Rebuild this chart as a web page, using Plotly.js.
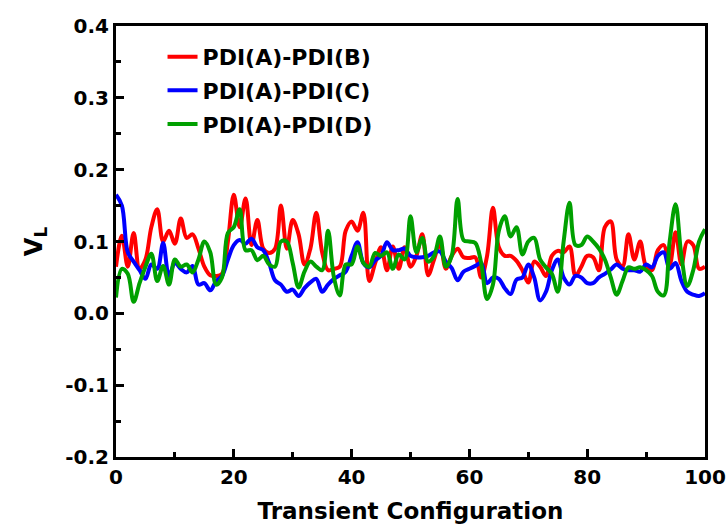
<!DOCTYPE html>
<html>
<head>
<meta charset="utf-8">
<script src="https://cdn.plot.ly/plotly-3.0.1.min.js"></script>
<style>html,body{margin:0;padding:0;background:#fff;}#chart{width:726px;height:526px;}</style>
</head>
<body>
<div id="chart"></div>
<script>
// Transient configuration index 0..100
var configs = [];
for (var i = 0; i <= 100; i++) configs.push(i);

var seriesNames = ["PDI(A)-PDI(B)", "PDI(A)-PDI(C)", "PDI(A)-PDI(D)"];

var vB = [0.065,0.108,0.065,0.112,0.062,0.075,0.120,0.145,0.100,0.115,
          0.097,0.132,0.105,0.110,0.090,0.065,0.053,0.052,0.055,0.100,
          0.165,0.120,0.160,0.095,0.130,0.090,0.084,0.090,0.150,0.090,
          0.130,0.110,0.068,0.090,0.140,0.085,0.060,0.062,0.065,0.115,
          0.128,0.115,0.140,0.045,0.070,0.092,0.060,0.093,0.062,0.092,
          0.065,0.080,0.110,0.053,0.075,0.097,0.062,0.080,0.090,0.078,
          0.077,0.078,0.050,0.080,0.147,0.092,0.080,0.080,0.073,0.060,
          0.043,0.072,0.065,0.052,0.080,0.087,0.085,0.093,0.052,0.065,
          0.080,0.078,0.060,0.120,0.128,0.075,0.065,0.110,0.075,0.100,
          0.065,0.060,0.088,0.095,0.068,0.113,0.068,0.100,0.095,0.062,
          0.065];

var vC = [0.165,0.150,0.085,0.072,0.060,0.048,0.068,0.062,0.098,0.052,
          0.070,0.062,0.057,0.066,0.040,0.042,0.032,0.045,0.052,0.075,
          0.095,0.102,0.097,0.104,0.092,0.088,0.070,0.046,0.040,0.030,
          0.033,0.024,0.035,0.043,0.048,0.030,0.040,0.048,0.053,0.058,
          0.080,0.099,0.070,0.064,0.074,0.080,0.099,0.088,0.088,0.090,
          0.080,0.078,0.078,0.080,0.085,0.086,0.072,0.063,0.046,0.058,
          0.062,0.066,0.070,0.042,0.050,0.048,0.035,0.027,0.047,0.050,
          0.068,0.050,0.018,0.030,0.060,0.075,0.050,0.040,0.052,0.050,
          0.042,0.042,0.050,0.055,0.061,0.068,0.062,0.060,0.060,0.058,
          0.068,0.064,0.080,0.085,0.062,0.070,0.045,0.030,0.026,0.024,
          0.028];

var vD = [0.022,0.062,0.055,0.016,0.042,0.065,0.083,0.045,0.066,0.040,
          0.075,0.065,0.068,0.057,0.075,0.100,0.085,0.040,0.050,0.112,
          0.120,0.145,0.088,0.088,0.074,0.080,0.068,0.065,0.100,0.100,
          0.070,0.036,0.058,0.072,0.065,0.060,0.115,0.050,0.025,0.068,
          0.068,0.093,0.070,0.065,0.084,0.080,0.085,0.062,0.082,0.075,
          0.135,0.085,0.105,0.072,0.080,0.107,0.065,0.080,0.159,0.102,
          0.100,0.098,0.070,0.020,0.040,0.115,0.135,0.107,0.120,0.082,
          0.100,0.105,0.075,0.064,0.055,0.030,0.100,0.154,0.095,0.095,
          0.107,0.100,0.090,0.075,0.050,0.026,0.045,0.064,0.062,0.064,
          0.060,0.052,0.030,0.025,0.100,0.152,0.080,0.038,0.060,0.100,
          0.117];

var xTicks = [0, 20, 40, 60, 80, 100];
var yTicks = [-0.2, -0.1, 0.0, 0.1, 0.2, 0.3, 0.4];
var yTickText = ["-0.2", "-0.1", "0.0", "0.1", "0.2", "0.3", "0.4"];

var colors = ["#FF0000", "#0000FF", "#00A000"];
var values = [vB, vC, vD];

var FONT = "DejaVu Sans, Liberation Sans, Arial, sans-serif";

var traces = values.map(function (v, k) {
  return {
    x: configs, y: v, type: "scatter", mode: "lines",
    name: seriesNames[k], legendgroup: "g" + k,
    line: {color: colors[k], width: 4, shape: "spline", smoothing: 1}
  };
});

var axisCommon = {
  showline: true, linecolor: "#000", linewidth: 3, mirror: true,
  ticks: "inside", ticklen: 8, tickwidth: 3, tickcolor: "#000",
  showgrid: false, zeroline: false,
  tickfont: {family: FONT, size: 20, color: "#000", weight: "bold"}
};

var layout = {
  width: 726, height: 526,
  margin: {l: 116, r: 21, t: 26, b: 69},
  paper_bgcolor: "#fff", plot_bgcolor: "#fff",
  showlegend: true,
  legend: {
    x: 0.079, y: 0.977, xanchor: "left", yanchor: "top",
    bgcolor: "rgba(0,0,0,0)", borderwidth: 0,
    tracegroupgap: 2,
    font: {family: FONT, size: 22, color: "#000", weight: "bold"}
  },
  xaxis: Object.assign({}, axisCommon, {
    range: [0, 100], tickvals: xTicks,
    minor: {ticks: "inside", dtick: 10, ticklen: 5, tickwidth: 3, tickcolor: "#000"},
    title: {text: "Transient Configuration", standoff: 15,
            font: {family: FONT, size: 23, color: "#000", weight: "bold"}}
  }),
  yaxis: Object.assign({}, axisCommon, {
    range: [-0.2, 0.4], tickvals: yTicks, ticktext: yTickText,
    minor: {ticks: "inside", dtick: 0.05, ticklen: 5, tickwidth: 3, tickcolor: "#000"},
    title: {text: "V<sub>L</sub>", standoff: 16,
            font: {family: FONT, size: 24, color: "#000", weight: "bold"}}
  })
};

Plotly.newPlot("chart", traces, layout, {displayModeBar: false, staticPlot: true});
</script>
</body>
</html>
